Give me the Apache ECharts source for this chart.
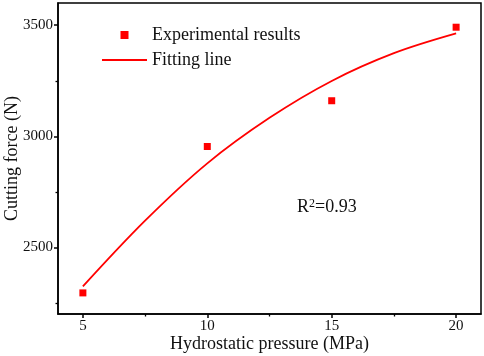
<!DOCTYPE html>
<html>
<head>
<meta charset="utf-8">
<script src="https://cdn.jsdelivr.net/npm/echarts@6/dist/echarts.min.js"></script>
<style>html,body{margin:0;padding:0;background:#fff;}#c{width:484px;height:356px;}</style>
</head>
<body>
<div id="c"></div>
<script>
// Data
const pressure = [5, 10, 15, 20];
const forceMeasured = [2295, 2954, 3160, 3491];
const fitX = [5, 7.5, 10, 12.5, 15, 17.5, 20];
const fitY = [2324, 2620, 2878, 3083, 3249, 3374, 3463];
const yLabelValues = [2500, 3000, 3500];
const yMinorTicks = [2250, 2750, 3250];
const xLabelValues = [5, 10, 15, 20];
const xMinorTicks = [7.5, 12.5, 17.5];
const r2Text = 'R{sup|2}=0.93';

const FONT = '"Liberation Serif", "Times New Roman", serif';
const chart = echarts.init(document.getElementById('c'), null, {renderer: 'canvas'});
const axisCommon = {
  axisLine: {show: true, onZero: false, lineStyle: {color: '#000', width: 1.5}},
  splitLine: {show: false}
};
chart.setOption({
  animation: false,
  backgroundColor: '#fff',
  textStyle: {fontFamily: FONT},
  grid: {left: 58, right: 3, top: 3, bottom: 42, containLabel: false, outerBoundsMode: 'none',
         show: true, borderColor: '#000', borderWidth: 1.5, backgroundColor: 'transparent'},
  legend: {
    orient: 'vertical', left: 102, top: 26, padding: 0,
    itemWidth: 45, itemHeight: 8, itemGap: 7,
    textStyle: {fontFamily: FONT, fontSize: 18, color: '#111', lineHeight: 17},
    data: [
      {name: 'Experimental results', icon: 'path://M0,0h10v10h-10z', itemStyle: {color: '#ff0000', opacity: 1}},
      {name: 'Fitting line', icon: 'path://M0,0h45v1.8h-45z', itemStyle: {color: '#ff0000', opacity: 1}}
    ]
  },
  xAxis: [
    Object.assign({}, axisCommon, {
      type: 'value', min: 4, max: 21,
      name: 'Hydrostatic pressure (MPa)', nameLocation: 'middle', nameGap: 21, nameMoveOverlap: false,
      nameTextStyle: {fontFamily: FONT, fontSize: 18, color: '#111'},
      axisTick: {show: true, inside: false, length: 4, customValues: xLabelValues, lineStyle: {color: '#000', width: 1.5}},
      axisLabel: {customValues: xLabelValues, margin: 5, fontFamily: FONT, fontSize: 15, color: '#111',
                  formatter: v => String(v)}
    }),
    {
      type: 'value', min: 4, max: 21, position: 'bottom', gridIndex: 0,
      axisLine: {show: false}, splitLine: {show: false},
      axisLabel: {show: false},
      axisTick: {show: true, length: 2.5, customValues: xMinorTicks, lineStyle: {color: '#000', width: 1.3}}
    }
  ],
  yAxis: [
    Object.assign({}, axisCommon, {
      type: 'value', min: 2200, max: 3600,
      name: 'Cutting force (N)', nameLocation: 'middle', nameGap: 37, nameMoveOverlap: false,
      nameTextStyle: {fontFamily: FONT, fontSize: 18, color: '#111'},
      axisTick: {show: true, inside: false, length: 4, customValues: yLabelValues, lineStyle: {color: '#000', width: 1.5}},
      axisLabel: {customValues: yLabelValues, margin: 5, fontFamily: FONT, fontSize: 15, color: '#111',
                  formatter: v => String(v)}
    }),
    {
      type: 'value', min: 2200, max: 3600, position: 'left', gridIndex: 0,
      axisLine: {show: false}, splitLine: {show: false},
      axisLabel: {show: false},
      axisTick: {show: true, length: 2.5, customValues: yMinorTicks, lineStyle: {color: '#000', width: 1.3}}
    }
  ],
  series: [
    {
      name: 'Fitting line', type: 'line', smooth: 0.35, symbol: 'none', showSymbol: false,
      xAxisIndex: 0, yAxisIndex: 0,
      lineStyle: {color: '#ff0000', width: 1.8},
      itemStyle: {color: '#ff0000'},
      data: fitX.map((x, i) => [x, fitY[i]]),
      z: 2
    },
    {
      name: 'Experimental results', type: 'scatter', symbol: 'rect', symbolSize: 7,
      xAxisIndex: 0, yAxisIndex: 0,
      itemStyle: {color: '#ff0000', opacity: 1},
      data: pressure.map((x, i) => [x, forceMeasured[i]]),
      z: 3
    }
  ],
  graphic: [{
    type: 'text', left: 297, top: 198,
    style: {
      text: r2Text, fontFamily: FONT, fontSize: 18, fill: '#111',
      rich: {sup: {fontFamily: FONT, fontSize: 12, verticalAlign: 'top', lineHeight: 18}}
    }
  }]
});
</script>
</body>
</html>
